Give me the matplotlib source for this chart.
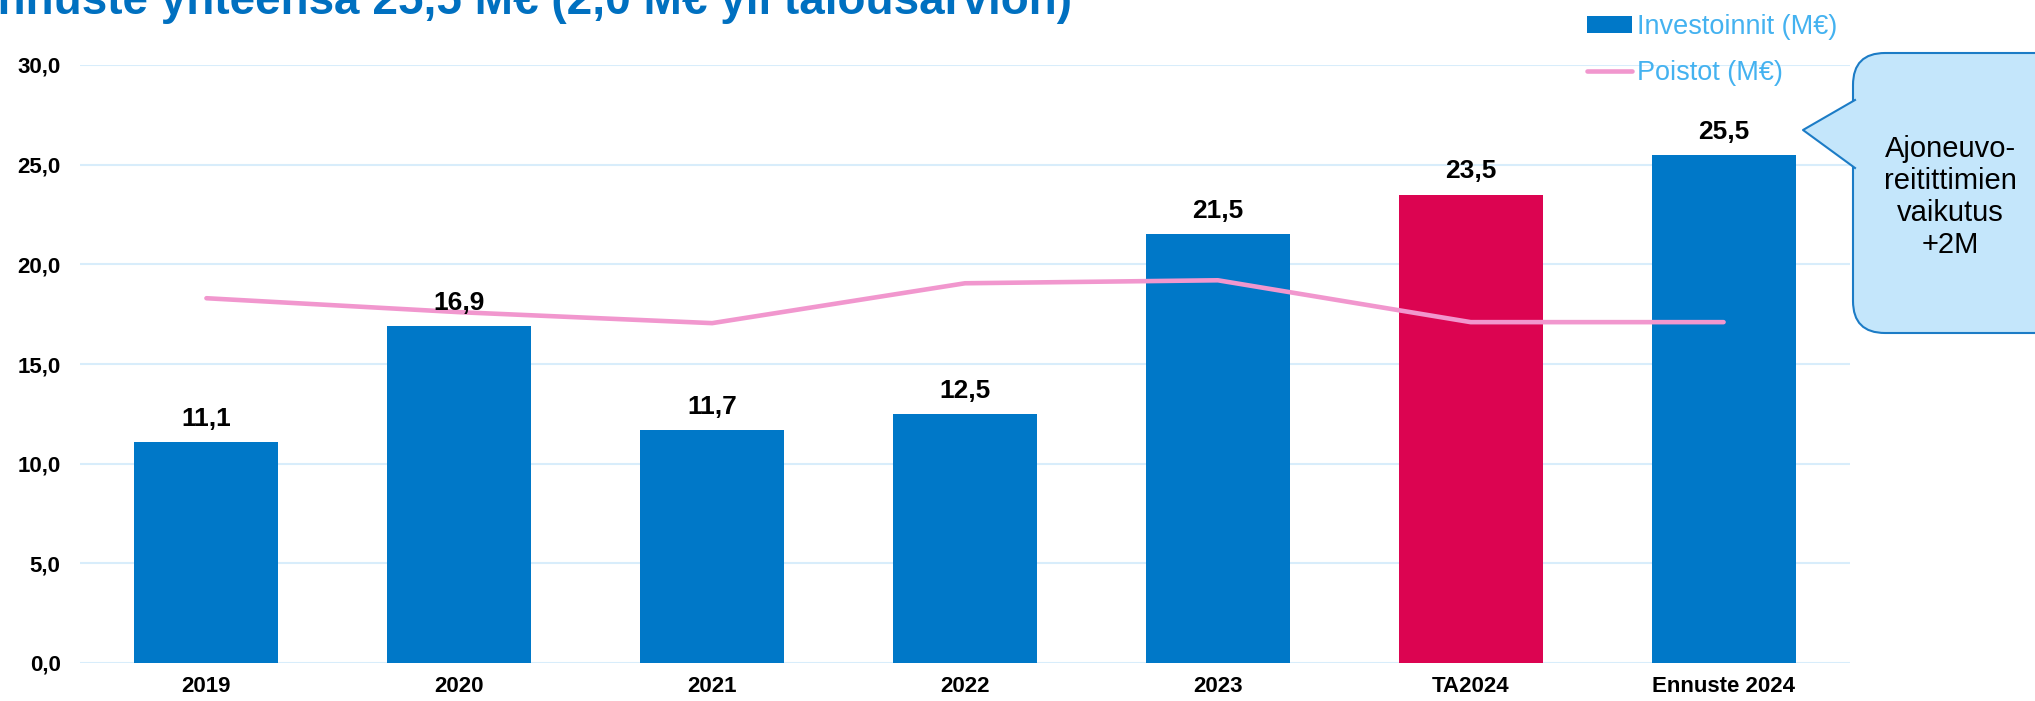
import matplotlib.pyplot as plt
import numpy as np
from matplotlib.patches import FancyBboxPatch, Polygon, Patch
from matplotlib.lines import Line2D

plt.rcParams['font.family'] = ['Liberation Sans', 'DejaVu Sans']

# ── data ─────────────────────────────────────────────
categories = ['2019', '2020', '2021', '2022', '2023', 'TA2024', 'Ennuste 2024']
investoinnit = [11.1, 16.9, 11.7, 12.5, 21.5, 23.5, 25.5]
poistot = [18.3, 17.6, 17.05, 19.05, 19.2, 17.1, 17.1]
y_ticks = [0, 5, 10, 15, 20, 25, 30]

BLUE = '#0078C8'
RED = '#DC0451'
PINK = '#F197CE'
GRID = '#D8EDFB'
LEG_TXT = '#44B2F0'
TITLE = '#0070C0'

W, H = 2035, 701
fig = plt.figure(figsize=(W / 100, H / 100), dpi=100)
ax = fig.add_axes([80 / W, 1 - 663 / H, (1850 - 80) / W, (663 - 65) / H])

x = np.arange(len(categories))
colors = [RED if c == 'TA2024' else BLUE for c in categories]
bars = ax.bar(x, investoinnit, width=0.57, color=colors, zorder=2)
ax.plot(x, poistot, color=PINK, linewidth=3.3, solid_capstyle='round', zorder=3)

for xi, v in zip(x, investoinnit):
    ax.annotate(f'{v:.1f}'.replace('.', ','), (xi, v), xytext=(0, 8),
                textcoords='offset points', ha='center', va='bottom',
                fontsize=19, fontweight='bold', color='black', zorder=4)

ax.set_xlim(-0.5, len(categories) - 0.5)
ax.set_ylim(0, 30)
ax.set_yticks(y_ticks)
ax.set_yticklabels([f'{t:.1f}'.replace('.', ',') for t in y_ticks])
ax.set_xticks(x)
ax.set_xticklabels(categories)
ax.tick_params(axis='both', length=0, labelsize=16)
ax.tick_params(axis='y', pad=14)
ax.tick_params(axis='x', pad=9)
for lab in ax.get_xticklabels() + ax.get_yticklabels():
    lab.set_fontweight('bold')
ax.grid(axis='y', color=GRID, linewidth=1.5, zorder=0)
ax.set_axisbelow(True)
for s in ax.spines.values():
    s.set_visible(False)

# ── title (clipped at the top-left like the slide) ─────
fig.text(-33 / W, 1 - 14 / H, 'Ennuste yhteensä 25,5 M€ (2,0 M€ yli talousarvion)',
         fontsize=33, fontweight='bold', color=TITLE, ha='left', va='baseline')

# ── legend ───────────────────────────────────────────
handles = [Patch(facecolor=BLUE, edgecolor='none'),
           Line2D([0], [0], color=PINK, linewidth=3.3, solid_capstyle='round')]
fig.legend(handles, ['Investoinnit (M€)', 'Poistot (M€)'], loc='upper left',
           bbox_to_anchor=(1587 / W, 1 - 14 / H), frameon=False, fontsize=19.5,
           labelcolor=LEG_TXT, handlelength=1.65, handleheight=0.55,
           handletextpad=0.2, labelspacing=0.75, borderaxespad=0, borderpad=0)

# ── callout bubble (pixel coords -> inches) ────────────
def px(xp, yp):
    return (xp / 100, (H - yp) / 100)

bx0, by0 = px(1853, 333)
bx1, by1 = px(2070, 53)
box = FancyBboxPatch((bx0, by0), bx1 - bx0, by1 - by0,
                     boxstyle='round,pad=0,rounding_size=0.32',
                     transform=fig.dpi_scale_trans, facecolor='#C4E6FB',
                     edgecolor='#1C7CC6', linewidth=1.5, zorder=5)
fig.add_artist(box)
tip = px(1803, 130)
b1 = px(1855, 100)
b2 = px(1855, 168)
fig.add_artist(Polygon([b1, tip, b2], closed=True, transform=fig.dpi_scale_trans,
                       facecolor='#C4E6FB', edgecolor='none', zorder=6))
fig.add_artist(Line2D([b1[0], tip[0], b2[0]], [b1[1], tip[1], b2[1]],
                      transform=fig.dpi_scale_trans, color='#1C7CC6',
                      linewidth=1.5, zorder=7))
fig.text(1950 / W, 1 - 197 / H, 'Ajoneuvo-\nreitittimien\nvaikutus\n+2M',
         ha='center', va='center', multialignment='center', fontsize=21,
         color='black', linespacing=1.17, zorder=8)

fig.savefig('out.png', dpi=100)
